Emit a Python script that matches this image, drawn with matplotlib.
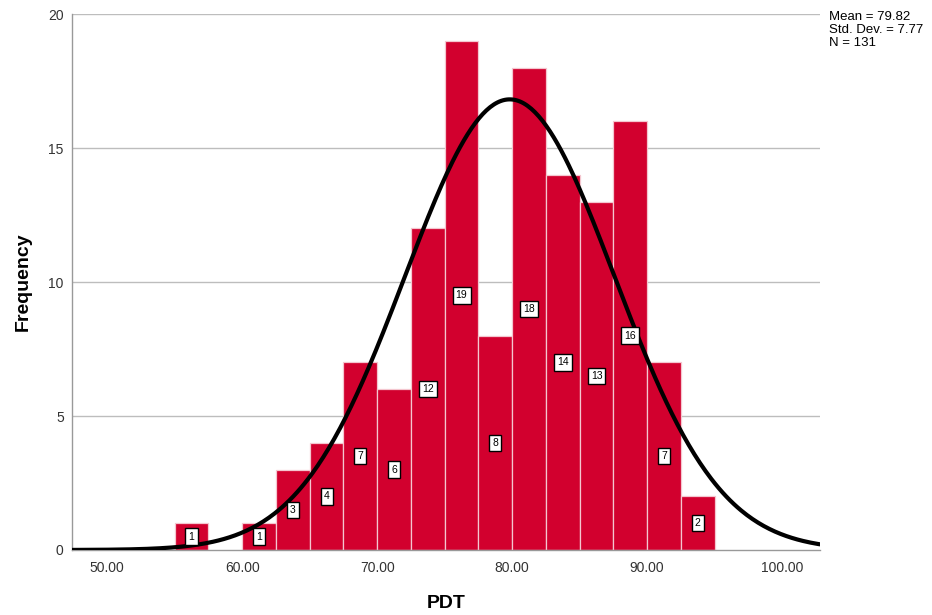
import numpy as np
import matplotlib
matplotlib.use("Agg")
import matplotlib.pyplot as plt

bin_edges = [55.0, 57.5, 60.0, 62.5, 65.0, 67.5, 70.0, 72.5, 75.0, 77.5,
             80.0, 82.5, 85.0, 87.5, 90.0, 92.5, 95.0]
counts = [1, 0, 1, 3, 4, 7, 6, 12, 19, 8, 18, 14, 13, 16, 7, 2]
mean_val = 79.82
sd_val = 7.77
n_val = 131
x_ticks = [50, 60, 70, 80, 90, 100]
x_tick_labels = ["50.00", "60.00", "70.00", "80.00", "90.00", "100.00"]
y_ticks = [0, 5, 10, 15, 20]

plt.rcParams['font.family'] = ['Liberation Sans', 'DejaVu Sans']

fig = plt.figure(figsize=(9.32, 6.15), dpi=100)
ax = fig.add_axes([0.0773, 0.1057, 0.8025, 0.8715])

xmin, xmax = 47.4, 102.8
ax.set_xlim(xmin, xmax)
ax.set_ylim(0, 20)

for y in y_ticks[1:]:
    ax.axhline(y, color="#bdbdbd", lw=1.0, zorder=0)

edges = np.array(bin_edges)
widths = np.diff(edges)
lefts = edges[:-1]
bar_color = "#D2002E"
for l, w, c in zip(lefts, widths, counts):
    if c > 0:
        ax.bar(l, c, width=w, align="edge", color=bar_color,
               edgecolor="#f4c6cf", linewidth=0.9, zorder=2)

xs = np.linspace(xmin, xmax, 400)
bw = widths[0]
ys = n_val * bw / (sd_val * np.sqrt(2 * np.pi)) * np.exp(-0.5 * ((xs - mean_val) / sd_val) ** 2)
ax.plot(xs, ys, color="black", lw=3.0, zorder=3, solid_capstyle="round")

for l, w, c in zip(lefts, widths, counts):
    if c > 0:
        ax.text(l + w / 2, c / 2, str(c), ha="center", va="center", fontsize=7.5,
                color="black", zorder=4,
                bbox=dict(boxstyle="square,pad=0.3", fc="white", ec="black", lw=1.0))

ax.set_xticks(x_ticks)
ax.set_xticklabels(x_tick_labels)
ax.set_yticks(y_ticks)
ax.tick_params(axis="both", length=0, labelsize=10, colors="#333333", pad=8)
ax.tick_params(axis="y", pad=6)

for s in ["top", "right"]:
    ax.spines[s].set_visible(False)
for s in ["left", "bottom"]:
    ax.spines[s].set_color("#999999")
    ax.spines[s].set_linewidth(1.0)

ax.set_xlabel("PDT", fontsize=14, fontweight="bold", labelpad=14, color="black")
ax.set_ylabel("Frequency", fontsize=14, fontweight="bold", labelpad=12, color="black")

fig.text(829 / 932, 1 - 11 / 615,
         "Mean = %.2f\nStd. Dev. = %.2f\nN = %d" % (mean_val, sd_val, n_val),
         ha="left", va="top", fontsize=9.5, linespacing=1.1, color="black")

fig.savefig("out.png", dpi=100)
